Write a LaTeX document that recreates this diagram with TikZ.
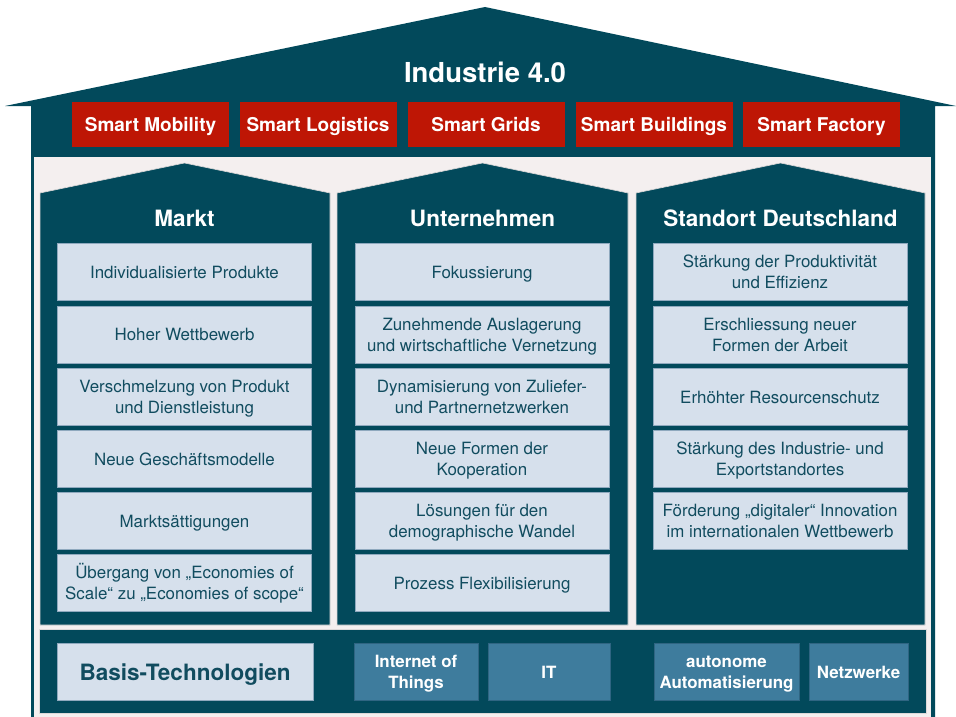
\documentclass[tikz,border=0pt]{standalone}
\usepackage{fontspec}
\setmainfont{TeX Gyre Heros}
\definecolor{darkteal}{HTML}{02495B}
\definecolor{smartred}{HTML}{BE1605}
\definecolor{lightbox}{HTML}{D6E0EC}
\definecolor{boxedge}{HTML}{8FA9BE}
\definecolor{textteal}{HTML}{114C5F}
\definecolor{techblue}{HTML}{3E7C9D}
\definecolor{techedge}{HTML}{2F6582}
\definecolor{interior}{HTML}{F4EFEF}
% last line without depth, so that the text is centred from cap top to last baseline
\newcommand\nodp[1]{\raisebox{0pt}[\height][0pt]{#1}}
\newcommand\capline[1]{\raisebox{0pt}[0.72em][\depth]{#1}}
\tikzset{
  redbox/.style={fill=smartred, draw=none, text=white, minimum width=157pt, minimum height=45pt, inner sep=0pt,
    font=\fontsize{19}{22}\selectfont\bfseries},
  itembox/.style={fill=lightbox, draw=boxedge, line width=0.8pt, text=textteal, minimum width=254pt, minimum height=57pt,
    inner sep=0pt, align=center, font=\fontsize{16.9}{21}\selectfont},
  techbox/.style={fill=techblue, draw=techedge, line width=0.8pt, text=white, minimum height=57pt, inner sep=0pt,
    align=center, font=\fontsize{16.9}{21}\selectfont\bfseries},
  pillartitle/.style={text=white, font=\fontsize{22.5}{26}\selectfont\bfseries, inner sep=0pt},
  pillar/.style={fill=darkteal, draw=interior!80!gray, line width=0.6pt}
}
\begin{document}
\begin{tikzpicture}[x=1pt,y=-1pt]
\useasboundingbox (0,0) rectangle (956,717);
% house body and roof
\fill[darkteal] (5,106) -- (485,7) -- (956,106) -- (935,106) -- (935,717) -- (31,717) -- (31,106) -- cycle;
\fill[interior] (34,157) rectangle (931,717);
% title
\node[text=white, font=\fontsize{27.5}{32}\selectfont\bfseries, inner sep=0pt] (title) at (485,72) {Industrie 4.0};
% smart boxes
\node[redbox] (s1) at (150.5,124.5) {\nodp{Smart Mobility}};
\node[redbox] (s2) at (318,124.5) {\nodp{Smart Logistics}};
\node[redbox] (s3) at (486,124.5) {\nodp{Smart Grids}};
\node[redbox] (s4) at (654,124.5) {\nodp{Smart Buildings}};
\node[redbox] (s5) at (821.5,124.5) {\nodp{Smart Factory}};
% pillars
\draw[pillar] (40,625) -- (40,193) -- (184.5,163) -- (330,193) -- (330,625) -- cycle;
\draw[pillar] (337,625) -- (337,193) -- (482.5,163) -- (628,193) -- (628,625) -- cycle;
\draw[pillar] (636,625) -- (636,193) -- (780.5,163) -- (925,193) -- (925,625) -- cycle;
\node[pillartitle] (t1) at (184.5,218) {Markt};
\node[pillartitle] (t2) at (482.5,218) {Unternehmen};
\node[pillartitle] (t3) at (780.5,218) {\nodp{Standort Deutschland}};
% Markt items
\node[itembox] (m1) at (184.5,272) {\nodp{Individualisierte Produkte}};
\node[itembox] (m2) at (184.5,334.5) {\nodp{Hoher Wettbewerb}};
\node[itembox] (m3) at (184.5,397) {Verschmelzung von Produkt\\\nodp{und Dienstleistung}};
\node[itembox] (m4) at (184.5,459) {\nodp{Neue Geschäftsmodelle}};
\node[itembox] (m5) at (184.5,521) {\nodp{Marktsättigungen}};
\node[itembox] (m6) at (184.5,583) {\capline{Übergang von „Economies of}\\\nodp{Scale“ zu „Economies of scope“}};
% Unternehmen items
\node[itembox] (u1) at (482,272) {\nodp{Fokussierung}};
\node[itembox] (u2) at (482,334.5) {Zunehmende Auslagerung\\\nodp{und wirtschaftliche Vernetzung}};
\node[itembox] (u3) at (482,397) {Dynamisierung von Zuliefer-\\\nodp{und Partnernetzwerken}};
\node[itembox] (u4) at (482,459) {Neue Formen der\\\nodp{Kooperation}};
\node[itembox] (u5) at (482,521) {Lösungen für den\\\nodp{demographische Wandel}};
\node[itembox] (u6) at (482,583) {\nodp{Prozess Flexibilisierung}};
% Standort items
\node[itembox] (d1) at (780,272) {Stärkung der Produktivität\\\nodp{und Effizienz}};
\node[itembox] (d2) at (780,334.5) {Erschliessung neuer\\\nodp{Formen der Arbeit}};
\node[itembox] (d3) at (780,397) {\nodp{Erhöhter Resourcenschutz}};
\node[itembox] (d4) at (780,459) {Stärkung des Industrie- und\\\nodp{Exportstandortes}};
\node[itembox] (d5) at (780,521) {Förderung „digitaler“ Innovation\\\nodp{im internationalen Wettbewerb}};
% basis band
\draw[pillar] (39,629) rectangle (926,713);
\node[itembox, minimum width=256pt, font=\fontsize{22.5}{26}\selectfont\bfseries] (b0) at (185,672) {\nodp{Basis-Technologien}};
\node[techbox, minimum width=124pt] (b1) at (416,672) {Internet of\\\nodp{Things}};
\node[techbox, minimum width=122pt] (b2) at (549,672) {IT};
\node[techbox, minimum width=145pt] (b3) at (726.5,672) {autonome\\\nodp{Automatisierung}};
\node[techbox, minimum width=99pt] (b4) at (858.5,672) {Netzwerke};
\end{tikzpicture}
\end{document}
